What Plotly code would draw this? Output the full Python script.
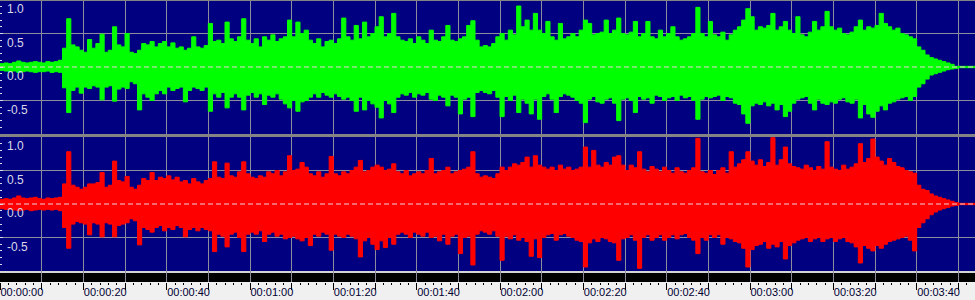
import plotly.graph_objects as go

# ---------------- data (amplitude in hundredths of full scale, 1-second bins) -------------
SECONDS = list(range(234))

L_POS = [5, 6, 5, 7, 9, 7, 6, 7, 8, 7,
         6, 8, 7, 8, 10, 28, 72, 33, 30, 25,
         22, 41, 28, 35, 49, 22, 25, 60, 33, 30,
         50, 22, 20, 25, 35, 33, 38, 30, 35, 38,
         30, 36, 28, 30, 25, 28, 45, 30, 28, 32,
         65, 38, 40, 35, 67, 42, 38, 45, 72, 40,
         35, 42, 30, 45, 40, 48, 38, 42, 45, 70,
         45, 67, 50, 55, 40, 35, 42, 30, 38, 40,
         35, 42, 73, 45, 40, 62, 42, 67, 45, 50,
         60, 75, 45, 50, 80, 45, 40, 38, 42, 35,
         45, 40, 35, 55, 40, 38, 45, 62, 40, 38,
         42, 45, 62, 69, 40, 30, 32, 30, 35, 45,
         50, 40, 55, 48, 91, 60, 70, 55, 80, 55,
         50, 68, 45, 40, 65, 42, 45, 50, 45, 55,
         70, 65, 48, 50, 52, 70, 50, 55, 73, 50,
         48, 52, 68, 45, 50, 68, 45, 42, 55, 45,
         50, 60, 45, 40, 42, 45, 50, 89, 50, 45,
         68, 48, 45, 52, 40, 48, 55, 60, 70, 87,
         75, 55, 60, 58, 62, 80, 55, 60, 68, 55,
         50, 75, 48, 45, 52, 68, 55, 60, 83, 60,
         55, 58, 50, 48, 52, 60, 70, 55, 60, 58,
         62, 80, 65, 60, 55, 58, 50, 48, 45, 42,
         30, 25, 18, 14, 12, 10, 8, 6, 4, 1,
         1, 1, 1, 1]

L_NEG = [5, 6, 7, 6, 8, 7, 6, 7, 8, 7,
         7, 6, 8, 7, 8, 31, 68, 35, 30, 39,
         30, 32, 28, 30, 49, 30, 28, 51, 33, 30,
         32, 22, 25, 64, 40, 45, 50, 40, 35, 40,
         30, 35, 32, 30, 52, 35, 30, 32, 35, 30,
         66, 40, 45, 38, 61, 45, 40, 45, 64, 42,
         38, 45, 40, 56, 42, 45, 40, 48, 55, 61,
         50, 66, 52, 50, 45, 40, 45, 38, 42, 45,
         40, 44, 48, 45, 50, 66, 45, 64, 50, 55,
         60, 76, 50, 55, 68, 45, 40, 42, 38, 45,
         40, 42, 38, 48, 50, 42, 45, 58, 42, 45,
         70, 48, 45, 74, 38, 35, 38, 40, 35, 45,
         74, 44, 50, 42, 68, 48, 54, 70, 48, 78,
         44, 40, 48, 68, 44, 40, 42, 45, 50, 54,
         83, 48, 44, 52, 54, 48, 46, 54, 80, 48,
         46, 50, 68, 44, 48, 46, 54, 42, 44, 50,
         46, 44, 50, 42, 46, 44, 50, 78, 48, 44,
         46, 44, 42, 50, 44, 46, 54, 56, 70, 84,
         58, 54, 56, 52, 58, 54, 64, 56, 74, 66,
         54, 48, 46, 44, 54, 64, 48, 54, 56, 52,
         54, 48, 46, 52, 54, 48, 76, 56, 70, 75,
         66, 58, 64, 54, 52, 48, 46, 44, 50, 44,
         30, 25, 18, 12, 10, 8, 6, 4, 3, 2,
         1, 1, 1, 1]

R_POS = [7, 8, 7, 9, 12, 9, 8, 9, 10, 8,
         7, 9, 8, 9, 10, 30, 78, 28, 25, 22,
         25, 30, 30, 32, 47, 25, 28, 64, 35, 33,
         41, 25, 22, 28, 38, 35, 47, 35, 40, 38,
         42, 36, 40, 33, 35, 30, 38, 33, 30, 35,
         38, 63, 40, 38, 61, 42, 40, 48, 63, 45,
         40, 38, 42, 40, 48, 45, 50, 42, 48, 72,
         50, 52, 62, 55, 45, 42, 48, 40, 45, 71,
         45, 42, 48, 45, 50, 55, 65, 48, 50, 55,
         58, 55, 50, 52, 60, 48, 45, 50, 42, 45,
         48, 45, 50, 68, 45, 48, 50, 55, 45, 48,
         50, 52, 55, 78, 45, 40, 42, 40, 38, 45,
         55, 50, 55, 60, 58, 62, 70, 55, 72, 58,
         55, 52, 55, 50, 58, 52, 55, 50, 52, 55,
         85, 55, 80, 58, 55, 62, 58, 70, 72, 58,
         50, 58, 54, 78, 52, 48, 56, 52, 48, 55,
         50, 46, 54, 48, 46, 50, 54, 98, 48, 46,
         50, 44, 50, 54, 46, 78, 55, 60, 66, 78,
         64, 58, 66, 56, 62, 99, 58, 66, 85, 60,
         56, 54, 52, 58, 54, 50, 56, 52, 93, 55,
         52, 50, 58, 52, 55, 60, 90, 62, 68, 97,
         70, 64, 58, 68, 62, 56, 54, 50, 48, 46,
         28, 22, 20, 15, 12, 10, 8, 6, 4, 2,
         1, 1, 1, 1]

R_NEG = [7, 8, 8, 9, 10, 9, 8, 10, 9, 8,
         9, 8, 9, 8, 10, 35, 66, 30, 26, 28,
         30, 46, 28, 30, 49, 28, 30, 49, 32, 30,
         28, 22, 25, 61, 35, 38, 42, 35, 32, 40,
         35, 38, 32, 35, 49, 38, 35, 40, 35, 38,
         40, 71, 45, 48, 64, 45, 42, 50, 71, 45,
         42, 45, 40, 56, 45, 42, 48, 45, 52, 50,
         48, 52, 55, 50, 62, 45, 48, 42, 45, 69,
         45, 48, 50, 45, 48, 52, 79, 55, 50, 60,
         68, 55, 65, 50, 60, 45, 42, 45, 50, 42,
         45, 48, 42, 50, 48, 55, 45, 60, 48, 45,
         74, 50, 48, 91, 45, 40, 42, 45, 40, 48,
         84, 48, 52, 46, 54, 50, 56, 78, 52, 80,
         50, 46, 44, 54, 46, 44, 48, 50, 54, 56,
         94, 58, 52, 56, 50, 52, 56, 58, 84, 52,
         50, 46, 54, 96, 50, 46, 54, 50, 46, 54,
         50, 46, 52, 46, 44, 50, 54, 74, 50, 54,
         46, 50, 46, 60, 50, 52, 56, 58, 66, 94,
         68, 62, 60, 56, 66, 60, 64, 56, 82, 62,
         58, 54, 52, 50, 56, 52, 50, 56, 52, 50,
         56, 52, 50, 56, 58, 64, 88, 62, 66, 70,
         62, 66, 60, 56, 54, 52, 50, 48, 54, 70,
         35, 28, 22, 16, 12, 9, 7, 5, 3, 2,
         1, 1, 1, 1]

AMP_TICKS = [1.0, 0.5, 0.0, -0.5]
AMP_LABELS = ["1.0", "0.5", "0.0", "-0.5"]
TIME_TICKS = list(range(0, 240, 10))
TIME_LABELS = [f"00:{t // 60:02d}:{t % 60:02d}" if t % 20 == 0 else "" for t in TIME_TICKS]

# ---------------- styling -------------
W, H = 975, 300
NAVY = "#000080"
GRID = "#8c8c9c"
GREEN = "#00ff00"
RED = "#ff0000"
LABEL = "#d8d8e8"
X_END = len(SECONDS)


def py(px):
    return 1 - px / H


def steps(vals, sign):
    xs = SECONDS + [X_END]
    ys = [sign * v / 100 for v in vals] + [sign * vals[-1] / 100]
    return xs, ys


fig = go.Figure()
for vals, sign, color, xa, ya in [
    (L_POS, 1, GREEN, "x", "y"), (L_NEG, -1, GREEN, "x", "y"),
    (R_POS, 1, RED, "x2", "y2"), (R_NEG, -1, RED, "x2", "y2")]:
    xs, ys = steps(vals, sign)
    fig.add_trace(go.Scatter(x=xs, y=ys, mode="lines", line=dict(color=color, width=1, shape="hv"),
                             fill="tozeroy", fillcolor=color, xaxis=xa, yaxis=ya,
                             hoverinfo="skip", showlegend=False))
fig.add_trace(go.Scatter(x=[], y=[], xaxis="x3", yaxis="y3", showlegend=False))

xcommon = dict(range=[0, X_END], showgrid=True, gridcolor=GRID, gridwidth=1, zeroline=False,
               showline=False, tickmode="array", tickvals=TIME_TICKS[1:], showticklabels=False,
               ticks="", fixedrange=True)
ycommon = dict(range=[-1, 1], tickmode="array", tickvals=AMP_TICKS, ticktext=AMP_LABELS,
               showgrid=True, gridcolor=GRID, gridwidth=1, zeroline=False, showline=False,
               ticks="inside", ticklen=3, tickcolor=LABEL, tickwidth=1,
               ticklabelposition="inside bottom", ticklabelstandoff=4,
               tickfont=dict(family="Liberation Sans", size=12, color=LABEL),
               minor=dict(tickmode="linear", tick0=0, dtick=0.1, ticks="inside", ticklen=2,
                          tickcolor=LABEL, showgrid=False),
               fixedrange=True)

fig.update_layout(
    width=W, height=H, margin=dict(l=0, r=0, t=0, b=0),
    paper_bgcolor="#f0f0f0", plot_bgcolor=NAVY, showlegend=False,
    xaxis=dict(xcommon, domain=[0, 1], anchor="y"),
    xaxis2=dict(xcommon, domain=[0, 1], anchor="y2", matches="x"),
    xaxis3=dict(range=[0, X_END], domain=[0, 1], anchor="y3", matches="x",
                tickmode="array", tickvals=TIME_TICKS, ticktext=TIME_LABELS,
                showgrid=True, gridcolor=GRID, zeroline=False, showline=False,
                ticks="outside", ticklen=7, tickcolor="#000000", tickwidth=1,
                ticklabelposition="outside right",
                tickfont=dict(family="Liberation Sans", size=11, color="#000033"),
                minor=dict(tickmode="linear", tick0=0, dtick=2, ticks="outside", ticklen=2,
                           tickcolor="#000000", showgrid=False),
                fixedrange=True),
    yaxis=dict(ycommon, domain=[py(134), py(0)], anchor="x"),
    yaxis2=dict(ycommon, domain=[py(271), py(137)], anchor="x2"),
    yaxis3=dict(range=[0, 1], domain=[py(282), py(271)], anchor="x3", visible=False,
                fixedrange=True),
    shapes=[
        dict(type="rect", xref="paper", yref="paper", x0=0, x1=1, y0=py(273), y1=py(271),
             fillcolor="#d4d4d4", line=dict(width=0), layer="below"),
        dict(type="rect", xref="paper", yref="paper", x0=0, x1=1, y0=py(282), y1=py(273),
             fillcolor="#000000", line=dict(width=0), layer="below"),
        dict(type="rect", xref="paper", yref="paper", x0=0, x1=1, y0=py(137), y1=py(134),
             fillcolor="#848484", line=dict(width=0), layer="above"),
        dict(type="rect", xref="paper", yref="paper", x0=0, x1=1, y0=py(1), y1=py(0),
             fillcolor="#848484", line=dict(width=0), layer="above"),
        dict(type="line", xref="x domain", yref="y", x0=0, x1=1, y0=0, y1=0,
             line=dict(color="#f0d0d8", width=1, dash="5px,3px"), layer="above"),
        dict(type="line", xref="x2 domain", yref="y2", x0=0, x1=1, y0=0, y1=0,
             line=dict(color="#f0d0d8", width=1, dash="5px,3px"), layer="above"),
    ],
)

fig.write_html("out.html")
